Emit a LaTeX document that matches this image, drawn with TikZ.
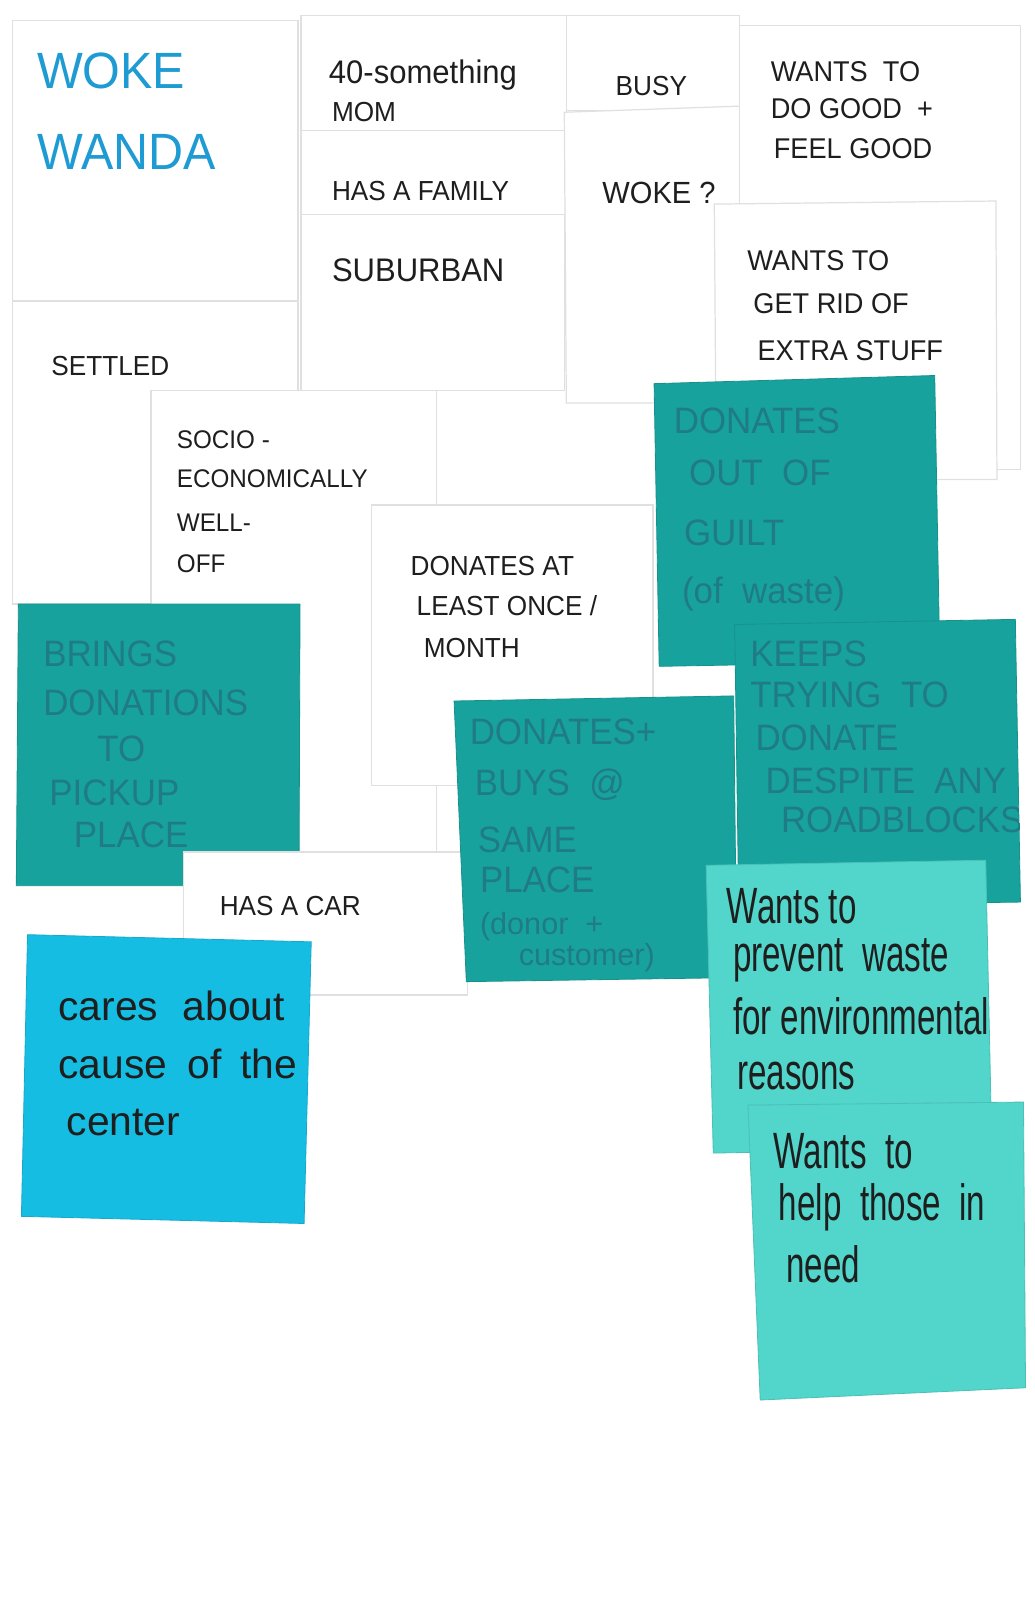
\documentclass[tikz,border=0pt]{standalone}
\usepackage{fontspec}
\setmainfont{Liberation Sans}
\newfontfamily\hand[FakeStretch=0.65]{Liberation Sans}
\newfontfamily\capsfont[FakeStretch=0.95]{Liberation Sans}
\definecolor{teal1}{HTML}{18A29D}
\definecolor{tealtxt}{HTML}{1F7C84}
\definecolor{lteal}{HTML}{52D5CA}
\definecolor{cyanb}{HTML}{16BDE3}
\definecolor{wandablue}{HTML}{1E9BD2}
\definecolor{ink}{HTML}{1E1E1E}
\begin{document}
\begin{tikzpicture}[x=0.5pt,y=-0.5pt,
  paper/.style={fill=white,draw=black!12,line width=0.6pt},
  tealnote/.style={fill=teal1,draw=teal1!90!black,line width=0.4pt},
  ltealnote/.style={fill=lteal,draw=lteal!90!black,line width=0.4pt},
  cyannote/.style={fill=cyanb,draw=cyanb!90!black,line width=0.4pt},
  lbl/.style={anchor=base west,inner sep=0pt,font=\capsfont\fontsize{13.5}{14}\selectfont,text=ink},
  tlbl/.style={lbl,font=\capsfont\fontsize{18}{19}\selectfont,text=tealtxt},
  hlbl/.style={lbl,font=\hand\fontsize{25}{26}\selectfont,text=ink},
  clbl/.style={lbl,font=\fontsize{20}{21}\selectfont,text=ink}]
\useasboundingbox (0,0) rectangle (1014,1568);
\fill[white] (0,0) rectangle (1014,1568);

% white paper notes
\path[paper] (12,20) rectangle (292,295);
\path[paper] (12,295) rectangle (292,592);
\path[paper] (148,383) rectangle (428,835);
\path[paper] (295,15) rectangle (555,128);
\path[paper] (295,128) rectangle (555,210);
\path[paper] (295,210) rectangle (553,383);
\path[paper] (555,15) rectangle (725,108);
\path[paper] (553,110) -- (725,104) -- (725,395) -- (555,395) -- cycle;
\path[paper] (725,25) rectangle (1000,460);
\path[paper] (700,200) -- (976,197) -- (977,470) -- (702,470) -- cycle;
\path[paper] (364,495) rectangle (640,770);

% text on white notes
\node[lbl,font=\capsfont\fontsize{25}{26}\selectfont,text=wandablue] (t1) at (36,87) {WOKE};
\node[lbl,font=\capsfont\fontsize{25}{26}\selectfont,text=wandablue] (t2) at (36,166) {WANDA};
\node[lbl,font=\capsfont\fontsize{16}{17}\selectfont] (t3) at (322,82) {40-something};
\node[lbl] (t4) at (325,119) {MOM};
\node[lbl] (t5) at (603,94) {BUSY};
\node[lbl,font=\capsfont\fontsize{14}{15}\selectfont] (t6) at (755,80) {WANTS\ \ TO};
\node[lbl,font=\capsfont\fontsize{14}{15}\selectfont] (t7) at (755,116) {DO GOOD\ \ +};
\node[lbl,font=\capsfont\fontsize{14}{15}\selectfont] (t8) at (758,155) {FEEL GOOD};
\node[lbl] (t9) at (325,196) {HAS A FAMILY};
\node[lbl,font=\capsfont\fontsize{15}{16}\selectfont] (t10) at (590,199) {WOKE ?};
\node[lbl,font=\capsfont\fontsize{16}{17}\selectfont] (t11) at (325,276) {SUBURBAN};
\node[lbl,font=\capsfont\fontsize{14}{15}\selectfont] (t12) at (732,265) {WANTS TO};
\node[lbl,font=\capsfont\fontsize{14}{15}\selectfont] (t13) at (738,307) {GET RID OF};
\node[lbl,font=\capsfont\fontsize{14}{15}\selectfont] (t14) at (742,353) {EXTRA STUFF};
\node[lbl] (t15) at (50,368) {SETTLED};
\node[lbl,font=\capsfont\fontsize{12.5}{13}\selectfont] (t16) at (173,440) {SOCIO -};
\node[lbl,font=\capsfont\fontsize{12.5}{13}\selectfont] (t17) at (173,478) {ECONOMICALLY};
\node[lbl,font=\capsfont\fontsize{12.5}{13}\selectfont] (t18) at (173,521) {WELL-};
\node[lbl,font=\capsfont\fontsize{12.5}{13}\selectfont] (t19) at (173,561) {OFF};
\node[lbl] (t20) at (402,564) {DONATES AT};
\node[lbl] (t21) at (408,603) {LEAST ONCE /};
\node[lbl] (t22) at (415,644) {MONTH};

% teal notes (first layer)
\path[tealnote] (641,376) -- (916,368) -- (921,648) -- (646,653) -- cycle;
\node[tlbl] (g1) at (660,425) {DONATES};
\node[tlbl] (g2) at (675,476) {OUT\ \ OF};
\node[tlbl] (g3) at (670,535) {GUILT};
\node[tlbl] (g4) at (668,591) {(of\ \ waste)};

\path[tealnote] (18,592) -- (294,592) -- (293,868) -- (16,868) -- cycle;
\node[tlbl] (b1) at (42,653) {BRINGS};
\node[tlbl] (b2) at (42,701) {DONATIONS};
\node[tlbl] (b3) at (95,746) {TO};
\node[tlbl] (b4) at (48,789) {PICKUP};
\node[tlbl] (b5) at (72,831) {PLACE};

% has a car paper note
\path[paper] (180,835) rectangle (458,975);
\node[lbl] (c0) at (215,897) {HAS A CAR};

\path[tealnote] (720,612) -- (995,607) -- (1000,884) -- (724,888) -- cycle;
\begin{scope}
\clip (720,612) -- (995,607) -- (1000,884) -- (724,888) -- cycle;
\node[tlbl] (k1) at (735,653) {KEEPS};
\node[tlbl] (k2) at (735,693) {TRYING\ \ TO};
\node[tlbl] (k3) at (740,735) {DONATE};
\node[tlbl] (k4) at (750,778) {DESPITE\ \ ANY};
\node[tlbl] (k5) at (765,816) {ROADBLOCKS};
\end{scope}

\path[tealnote] (445,687) -- (719,682) -- (722,958) -- (457,962) -- cycle;
\node[tlbl] (d1) at (460,730) {DONATES+};
\node[tlbl] (d2) at (465,780) {BUYS\ \ @};
\node[tlbl] (d3) at (468,835) {SAME};
\node[tlbl] (d4) at (470,875) {PLACE};
\node[tlbl,font=\fontsize{15}{16}\selectfont] (d5) at (470,916) {(donor\ \ +};
\node[tlbl,font=\fontsize{15}{16}\selectfont] (d6) at (508,946) {customer)};

% light teal notes
\path[ltealnote] (692,848) -- (966,843) -- (972,1125) -- (699,1130) -- cycle;
\node[hlbl] (p1) at (712,905) {Wants to};
\node[hlbl] (p2) at (718,952) {prevent\ \ waste};
\node[hlbl] (p3) at (718,1014) {for environmental};
\node[hlbl] (p4) at (722,1068) {reasons};

\path[ltealnote] (733,1083) -- (1003,1080) -- (1005,1360) -- (745,1372) -- cycle;
\node[hlbl] (h1) at (758,1145) {Wants\ \ to};
\node[hlbl] (h2) at (763,1196) {help\ \ those\ \ in};
\node[hlbl] (h3) at (770,1257) {need};

% cyan note
\path[cyannote] (27,916) -- (305,923) -- (298,1199) -- (21,1192) -- cycle;
\node[clbl] (a1) at (57,1000) {cares\hspace{12pt}about};
\node[clbl] (a2) at (57,1057) {cause\hspace{10pt}of\hspace{9pt}the};
\node[clbl] (a3) at (65,1113) {center};
\end{tikzpicture}
\end{document}
